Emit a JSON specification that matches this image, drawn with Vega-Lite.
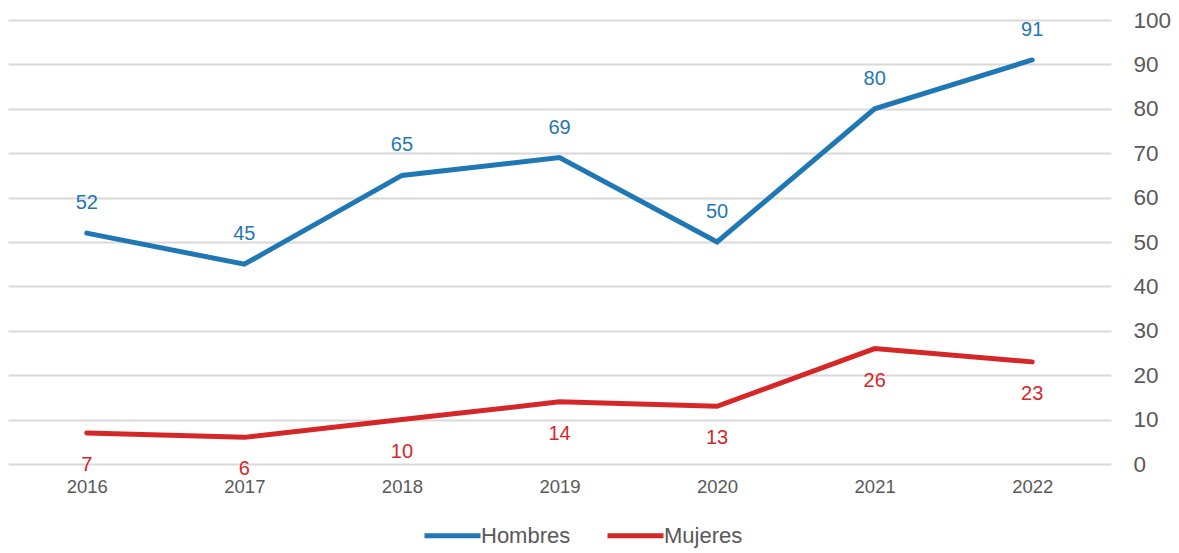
{
  "$schema": "https://vega.github.io/schema/vega-lite/v6.json",
  "width": 1103,
  "height": 444,
  "autosize": {"type": "none"},
  "padding": {"left": 8, "top": 20, "right": 68, "bottom": 89},
  "background": "white",
  "config": {
    "view": {"stroke": null},
    "font": "Liberation Sans"
  },
  "data": {
    "values": [
      {"year": "2016", "serie": "Hombres", "value": 52},
      {"year": "2017", "serie": "Hombres", "value": 45},
      {"year": "2018", "serie": "Hombres", "value": 65},
      {"year": "2019", "serie": "Hombres", "value": 69},
      {"year": "2020", "serie": "Hombres", "value": 50},
      {"year": "2021", "serie": "Hombres", "value": 80},
      {"year": "2022", "serie": "Hombres", "value": 91},
      {"year": "2016", "serie": "Mujeres", "value": 7},
      {"year": "2017", "serie": "Mujeres", "value": 6},
      {"year": "2018", "serie": "Mujeres", "value": 10},
      {"year": "2019", "serie": "Mujeres", "value": 14},
      {"year": "2020", "serie": "Mujeres", "value": 13},
      {"year": "2021", "serie": "Mujeres", "value": 26},
      {"year": "2022", "serie": "Mujeres", "value": 23}
    ]
  },
  "encoding": {
    "x": {
      "field": "year", "type": "ordinal",
      "scale": {"type": "point", "padding": 0.5},
      "axis": {"title": null, "labelAngle": 0, "ticks": false, "domain": false, "grid": false,
               "labelFontSize": 18.5, "labelColor": "#595959", "labelPadding": 13}
    },
    "y": {
      "field": "value", "type": "quantitative",
      "scale": {"domain": [0, 100], "nice": false},
      "axis": {"orient": "right", "title": null, "values": [0,10,20,30,40,50,60,70,80,90,100],
               "ticks": false, "domain": false, "gridColor": "#D9D9D9", "gridWidth": 2,
               "labelFontSize": 22.5, "labelColor": "#595959", "labelPadding": 22}
    },
    "color": {
      "field": "serie", "type": "nominal",
      "scale": {"domain": ["Hombres", "Mujeres"], "range": ["#1F77B4", "#D62728"]}
    }
  },
  "layer": [
    {
      "mark": {"type": "line", "strokeWidth": 5, "strokeCap": "round", "strokeJoin": "miter"},
      "encoding": {
        "color": {
          "field": "serie", "type": "nominal",
          "scale": {"domain": ["Hombres", "Mujeres"], "range": ["#1F77B4", "#D62728"]},
          "legend": {
            "title": null, "orient": "none", "direction": "horizontal",
            "legendX": 414, "legendY": 485,
            "symbolType": "stroke", "symbolSize": 3136, "symbolStrokeWidth": 5,
            "labelFontSize": 22, "labelColor": "#595959", "labelOffset": -2,
            "columnPadding": 26
          }
        }
      }
    },
    {
      "transform": [{"filter": "datum.serie == 'Hombres'"}],
      "mark": {"type": "text", "dy": -30, "fontSize": 20, "baseline": "middle"},
      "encoding": {"text": {"field": "value", "type": "quantitative"}}
    },
    {
      "transform": [{"filter": "datum.serie == 'Mujeres'"}],
      "mark": {"type": "text", "dy": 32, "fontSize": 20, "baseline": "middle"},
      "encoding": {"text": {"field": "value", "type": "quantitative"}}
    }
  ]
}
